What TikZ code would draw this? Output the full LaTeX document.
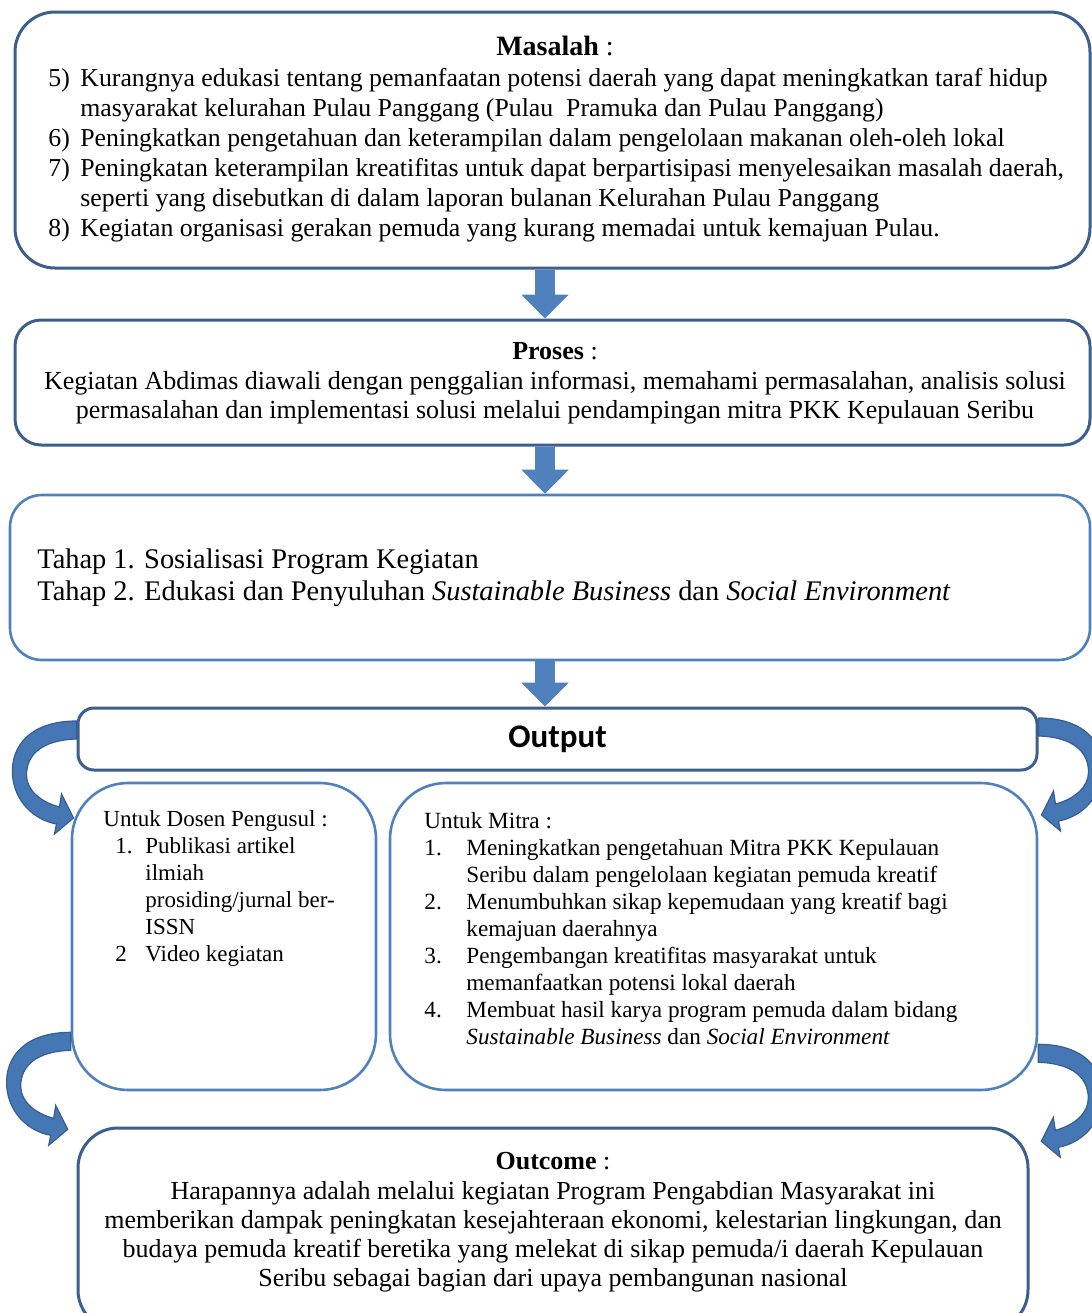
\documentclass[tikz,border=0pt]{standalone}
\usepackage{fontspec}
\setmainfont{Liberation Serif}
\newfontfamily\outfont{Carlito}
\usetikzlibrary{arrows.meta,calc}
\definecolor{darkline}{HTML}{3C5F8D}
\definecolor{lightline}{HTML}{4F81BD}
\definecolor{arrowfill}{HTML}{4F81BD}
\definecolor{bendfill}{HTML}{4677B5}
\definecolor{benddraw}{HTML}{365E91}
% curved block arrow, drawn from its start point; #2 = 1 bends left, -1 bends right
\newcommand{\bendarrow}[2]{%
  \begin{scope}[shift={#1}, xscale=#2]
    \filldraw[fill=bendfill, draw=benddraw, line width=0.6pt]
      (0,-9) .. controls (-45,-9) and (-66,15) .. (-64,45)
      .. controls (-62,72) and (-42,90) .. (-20,94) -- (-22,104) -- (-3,88) -- (-15,64) -- (-17,77)
      .. controls (-36,72) and (-50,60) .. (-50,45)
      .. controls (-50,25) and (-35,10) .. (0,9) -- cycle;
  \end{scope}}
\tikzset{
  box/.style={draw=darkline, fill=white, line width=1.5pt, inner sep=0pt},
  lightbox/.style={box, draw=lightline, line width=1.3pt},
  txt/.style={inner sep=0pt, anchor=base west, text=black},
  ctxt/.style={txt, anchor=base},
  dnarrow/.style={draw=arrowfill, line width=10pt, -{Triangle[width=23pt,length=12pt]}}
}
\begin{document}
\begin{tikzpicture}[x=0.5pt,y=-0.5pt]
  \useasboundingbox (0,0) rectangle (1092,1313);
  \clip (0,0) rectangle (1092,1313);
  \fill[white] (0,0) rectangle (1092,1313);

  % boxes
  \node[box, rounded corners=20pt, minimum width=537.5pt, minimum height=128pt] (masalah) at (552.5,140) {};
  \node[box, rounded corners=13pt, minimum width=537.5pt, minimum height=62.5pt] (proses) at (552.5,382.5) {};
  \node[lightbox, rounded corners=16pt, minimum width=540pt, minimum height=82.5pt] (tahap) at (550,577.5) {};
  \node[box, rounded corners=8pt, minimum width=479.5pt, minimum height=31pt,
        font=\outfont\bfseries\fontsize{16.5}{18}\selectfont] (output) at (557.5,739) {Output};
  \node[lightbox, rounded corners=28pt, minimum width=152pt, minimum height=153.5pt] (dosen) at (224,936.5) {};
  \node[lightbox, rounded corners=28pt, minimum width=323.5pt, minimum height=153.5pt] (mitra) at (713.5,936.5) {};
  \node[box, rounded corners=20pt, minimum width=475pt, minimum height=101pt] (outcome) at (553,1229) {};

  % straight arrows
  \coordinate (ax) at (545,0);
  \draw[dnarrow] (masalah.south -| ax) -- (proses.north -| ax);
  \draw[dnarrow] (proses.south -| ax) -- (tahap.north -| ax);
  \draw[dnarrow] (tahap.south -| ax) -- (output.north -| ax);

  % curved arrows
  \bendarrow{($(output.west)+(0,-9)$)}{1}
  \bendarrow{($(output.east)+(0,-12)$)}{-1}
  \bendarrow{($(dosen.south west)+(0,-50)$)}{1}
  \bendarrow{($(mitra.south east)+(0,-38)$)}{-1}

  % texts
  \node[ctxt, font=\fontsize{14}{15}\selectfont] (masalaht) at (555,55) {\textbf{Masalah} :};
  \node[txt, font=\fontsize{12.9}{15}\selectfont] (masalahl) at (48,86) {%
    \begin{tabular}[t]{@{}p{16pt}@{}l@{}}
      5) & Kurangnya edukasi tentang pemanfaatan potensi daerah yang dapat meningkatkan taraf hidup\\
         & masyarakat kelurahan Pulau Panggang (Pulau \ Pramuka dan Pulau Panggang)\\
      6) & Peningkatkan pengetahuan dan keterampilan dalam pengelolaan makanan oleh-oleh lokal\\
      7) & Peningkatan keterampilan kreatifitas untuk dapat berpartisipasi menyelesaikan masalah daerah,\\
         & seperti yang disebutkan di dalam laporan bulanan Kelurahan Pulau Panggang\\
      8) & Kegiatan organisasi gerakan pemuda yang kurang memadai untuk kemajuan Pulau.
    \end{tabular}};

  \node[ctxt, font=\fontsize{13}{14.5}\selectfont] (prosest) at (555,359) {%
    \begin{tabular}[t]{@{}c@{}}
      \textbf{Proses} :\\[0.5pt]
      Kegiatan Abdimas diawali dengan penggalian informasi, memahami permasalahan, analisis solusi\\
      permasalahan dan implementasi solusi melalui pendampingan mitra PKK Kepulauan Seribu
    \end{tabular}};

  \node[txt, font=\fontsize{14.2}{16}\selectfont] (tahapt) at (37,568) {%
    \begin{tabular}[t]{@{}l@{}}
      Tahap 1. Sosialisasi Program Kegiatan\\
      Tahap 2. Edukasi dan Penyuluhan \textit{Sustainable Business} dan \textit{Social Environment}
    \end{tabular}};

  \node[txt, font=\fontsize{11.5}{13.5}\selectfont] (dosent) at (103,826) {Untuk Dosen Pengusul :};
  \node[txt, font=\fontsize{11.5}{13.5}\selectfont] (dosenl) at (115,853) {%
    \begin{tabular}[t]{@{}p{15pt}@{}l@{}}
      1. & Publikasi artikel\\
         & ilmiah\\
         & prosiding/jurnal ber-\\
         & ISSN\\
      2  & Video kegiatan
    \end{tabular}};

  \node[txt, font=\fontsize{11.6}{13.5}\selectfont] (mitrat) at (424,828) {Untuk Mitra :};
  \node[txt, font=\fontsize{11.6}{13.5}\selectfont] (mitral) at (424,855) {%
    \begin{tabular}[t]{@{}p{21pt}@{}l@{}}
      1. & Meningkatkan pengetahuan Mitra PKK Kepulauan\\
         & Seribu dalam pengelolaan kegiatan pemuda kreatif\\
      2. & Menumbuhkan sikap kepemudaan yang kreatif bagi\\
         & kemajuan daerahnya\\
      3. & Pengembangan kreatifitas masyarakat untuk\\
         & memanfaatkan potensi lokal daerah\\
      4. & Membuat hasil karya program pemuda dalam bidang\\
         & \textit{Sustainable Business} dan \textit{Social Environment}
    \end{tabular}};

  \node[ctxt, font=\fontsize{13}{14.5}\selectfont] (outcomet) at (553,1169) {%
    \begin{tabular}[t]{@{}c@{}}
      \textbf{Outcome} :\\[0.5pt]
      Harapannya adalah melalui kegiatan Program Pengabdian Masyarakat ini\\
      memberikan dampak peningkatan kesejahteraan ekonomi, kelestarian lingkungan, dan\\
      budaya pemuda kreatif beretika yang melekat di sikap pemuda/i daerah Kepulauan\\
      Seribu sebagai bagian dari upaya pembangunan nasional
    \end{tabular}};
\end{tikzpicture}
\end{document}
